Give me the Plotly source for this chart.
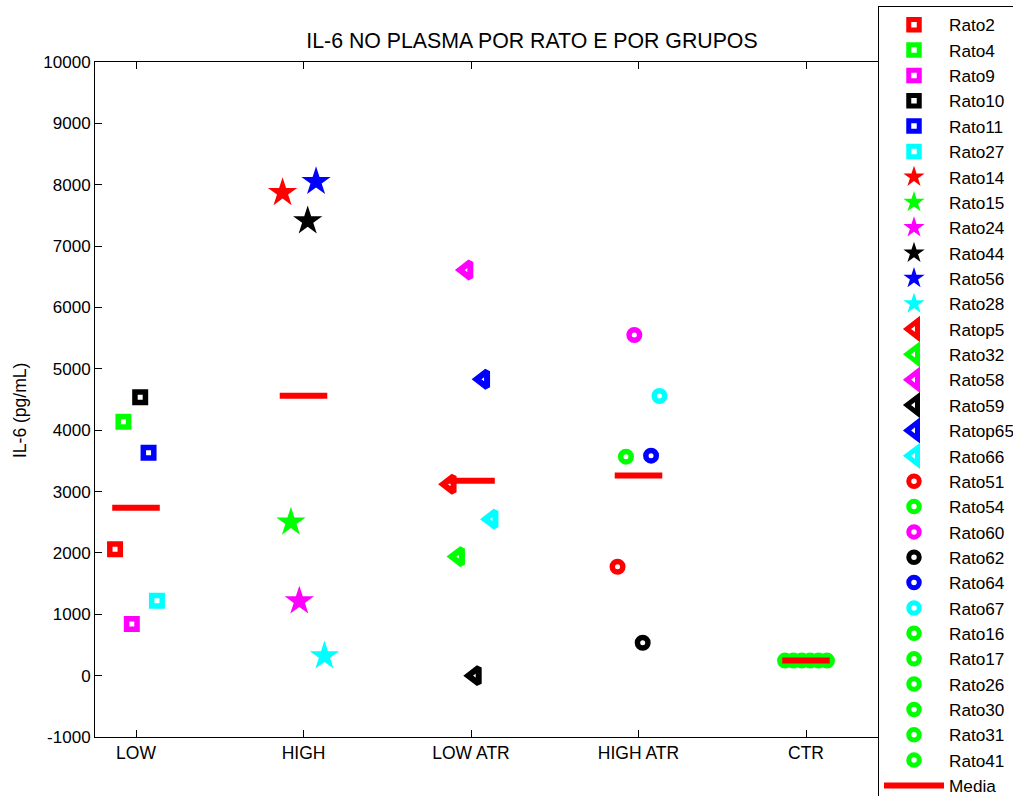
import numpy as np
import plotly.graph_objects as go

# ---------------- data ----------------
groups = ["LOW", "HIGH", "LOW ATR", "HIGH ATR", "CTR"]

low_names = ["Rato2", "Rato4", "Rato9", "Rato10", "Rato11", "Rato27"]
low_values = [2058, 4138, 841, 4535, 3633, 1221]

high_names = ["Rato14", "Rato15", "Rato24", "Rato44", "Rato56", "Rato28"]
high_values = [7870, 2500, 1215, 7410, 8050, 320]

lowatr_names = ["Ratop5", "Rato32", "Rato58", "Rato59", "Ratop65", "Rato66"]
lowatr_values = [3120, 1940, 6610, 0, 4830, 2550]

highatr_names = ["Rato51", "Rato54", "Rato60", "Rato62", "Rato64", "Rato67"]
highatr_values = [1775, 3568, 5551, 536, 3584, 4557]

ctr_names = ["Rato16", "Rato17", "Rato26", "Rato30", "Rato31", "Rato41"]
ctr_values = [245, 245, 245, 245, 245, 245]

y_ticks = [-1000, 0, 1000, 2000, 3000, 4000, 5000, 6000, 7000, 8000, 9000, 10000]
y_tick_labels = ["-1000", "0", "1000", "2000", "3000", "4000", "5000",
                 "6000", "7000", "8000", "9000", "10000"]

# ---------------- style ----------------
six_colors = ["#FF0000", "#00FF00", "#FF00FF", "#000000", "#0000FF", "#00FFFF"]
FONT = "Liberation Sans, Arial, sans-serif"

group_data = [
    (low_names, low_values, "square", six_colors),
    (high_names, high_values, "star", six_colors),
    (lowatr_names, lowatr_values, "triangle-left", six_colors),
    (highatr_names, highatr_values, "circle", six_colors),
    (ctr_names, ctr_values, "circle", ["#00FF00"] * 6),
]

offsets = np.linspace(-0.125, 0.125, 6)

fig = go.Figure()

for gi, (names, values, symbol, colors) in enumerate(group_data):
    xpos = gi + 1
    for k, (nm, val) in enumerate(zip(names, values)):
        if symbol == "star":
            marker = dict(symbol="star", size=22, color=colors[k],
                          line=dict(width=0, color=colors[k]))
        elif symbol == "triangle-left":
            marker = dict(symbol="triangle-left", size=14, color="white",
                          line=dict(width=6, color=colors[k]))
        else:
            marker = dict(symbol=symbol, size=10.5, color="white",
                          line=dict(width=5.5, color=colors[k]))
        fig.add_trace(go.Scatter(
            x=[xpos + offsets[k]], y=[val], mode="markers", name=nm,
            marker=marker,
        ))

# mean lines
mx, my = [], []
for gi, (names, values, symbol, colors) in enumerate(group_data):
    m = float(np.mean(values))
    mx += [gi + 1 - 0.142, gi + 1 + 0.142, None]
    my += [m, m, None]
fig.add_trace(go.Scatter(x=mx, y=my, mode="lines", name="Media",
                         line=dict(color="#FF0000", width=6)))

PLOT_L, PLOT_R, PLOT_T, PLOT_B = 95, 890, 62, 737

fig.update_layout(
    width=1013, height=796,
    margin=dict(l=PLOT_L, r=1013 - PLOT_R, t=PLOT_T, b=796 - PLOT_B,
                autoexpand=False),
    paper_bgcolor="white", plot_bgcolor="white",
    font=dict(family=FONT, size=16, color="black"),
    showlegend=True,
    title=dict(text="IL-6 NO PLASMA POR RATO E POR GRUPOS",
               x=532 / 1013, xanchor="center", xref="container",
               y=1 - 41 / 796, yanchor="middle", yref="container",
               font=dict(family=FONT, size=21.3, color="black")),
    legend=dict(x=(878 - PLOT_L) / (PLOT_R - PLOT_L), xanchor="left",
                y=1 + (PLOT_T - 6) / (PLOT_B - PLOT_T), yanchor="top",
                bordercolor="black", borderwidth=1, bgcolor="white",
                font=dict(family=FONT, size=17.2, color="black"),
                itemwidth=60, tracegroupgap=0, maxheight=2000),
    xaxis=dict(range=[1 - (136 - PLOT_L) / 167.5, 1 + (PLOT_R - 136) / 167.5],
               tickmode="array",
               tickvals=[1, 2, 3, 4, 5], ticktext=groups,
               showgrid=False, zeroline=False, showline=True,
               linecolor="black", linewidth=1, mirror="ticks",
               ticks="inside", ticklen=7, tickcolor="black",
               tickfont=dict(family=FONT, size=17.5, color="black")),
    yaxis=dict(range=[-1000, 10000], tickmode="array", tickvals=y_ticks,
               ticktext=y_tick_labels,
               showgrid=False, zeroline=False, showline=True,
               linecolor="black", linewidth=1, mirror="ticks",
               ticks="inside", ticklen=7, tickcolor="black",
               tickfont=dict(family=FONT, size=17, color="black")),
    annotations=[dict(text="IL-6 (pg/mL)", textangle=-90,
                      xref="paper", yref="paper",
                      x=(20 - PLOT_L) / (PLOT_R - PLOT_L),
                      y=(PLOT_B - 411) / (PLOT_B - PLOT_T),
                      xanchor="center", yanchor="middle", showarrow=False,
                      font=dict(family=FONT, size=17.5, color="black"))],
)

fig.write_html("out.html")
